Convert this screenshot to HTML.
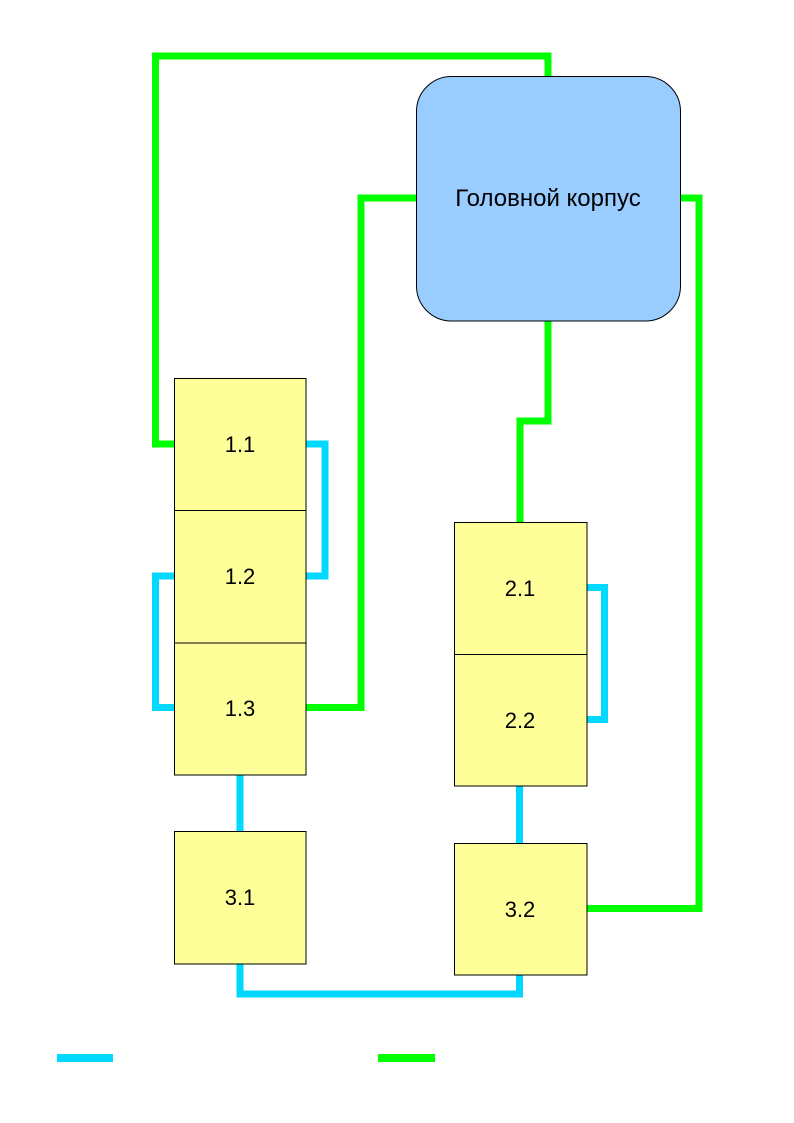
<!DOCTYPE html>
<html>
<head>
<meta charset="utf-8">
<style>
html,body{margin:0;padding:0;background:#fff;}
svg{display:block;}
text{font-family:"Liberation Sans","DejaVu Sans",sans-serif;font-size:22px;fill:#000;}
</style>
</head>
<body>
<svg width="794" height="1123" viewBox="0 0 794 1123" xmlns="http://www.w3.org/2000/svg">
  <rect x="0" y="0" width="794" height="1123" fill="#ffffff"/>
  <!-- green connectors -->
  <g fill="none" stroke="#00ff00" stroke-width="7" stroke-linejoin="miter" stroke-linecap="butt">
    <polyline points="175,444 155.5,444 155.5,56 548,56 548,77"/>
    <polyline points="417,198 361,198 361,707.5 306,707.5"/>
    <polyline points="680,198 699,198 699,908.5 587,908.5"/>
    <polyline points="548,321 548,421 520,421 520,522"/>
  </g>
  <!-- cyan connectors -->
  <g fill="none" stroke="#00d8ff" stroke-width="7" stroke-linejoin="miter" stroke-linecap="butt">
    <polyline points="306,444 325,444 325,576 306,576"/>
    <polyline points="175,576 155.5,576 155.5,707.5 175,707.5"/>
    <polyline points="240,775 240,831"/>
    <polyline points="587,587.5 604.5,587.5 604.5,719.5 587,719.5"/>
    <polyline points="519.5,786 519.5,843"/>
    <polyline points="240,964 240,994 519.5,994 519.5,975"/>
  </g>
  <!-- head box -->
  <rect x="416.5" y="76.5" width="264" height="244.5" rx="35" ry="35" fill="#99ccff" stroke="#000" stroke-width="1"/>
  <text x="548" y="206" text-anchor="middle" style="font-size:24px">Головной корпус</text>
  <!-- boxes -->
  <g fill="#ffff99" stroke="#000" stroke-width="1">
    <rect x="174.5" y="378.5" width="131.5" height="132"/>
    <rect x="174.5" y="510.5" width="131.5" height="132.5"/>
    <rect x="174.5" y="643" width="131.5" height="132"/>
    <rect x="174.5" y="831.5" width="131.5" height="132.5"/>
    <rect x="454.5" y="522.5" width="132.5" height="132"/>
    <rect x="454.5" y="654.5" width="132.5" height="131.5"/>
    <rect x="454.5" y="843.5" width="132.5" height="131.5"/>
  </g>
  <g text-anchor="middle">
    <text x="240" y="452">1.1</text>
    <text x="240" y="584">1.2</text>
    <text x="240" y="716">1.3</text>
    <text x="240" y="905">3.1</text>
    <text x="520" y="596">2.1</text>
    <text x="520" y="728">2.2</text>
    <text x="520" y="917">3.2</text>
  </g>
  <!-- legend -->
  <rect x="57" y="1054" width="56" height="8" fill="#00d8ff"/>
  <rect x="378" y="1054" width="57" height="8" fill="#00ff00"/>
</svg>
</body>
</html>
